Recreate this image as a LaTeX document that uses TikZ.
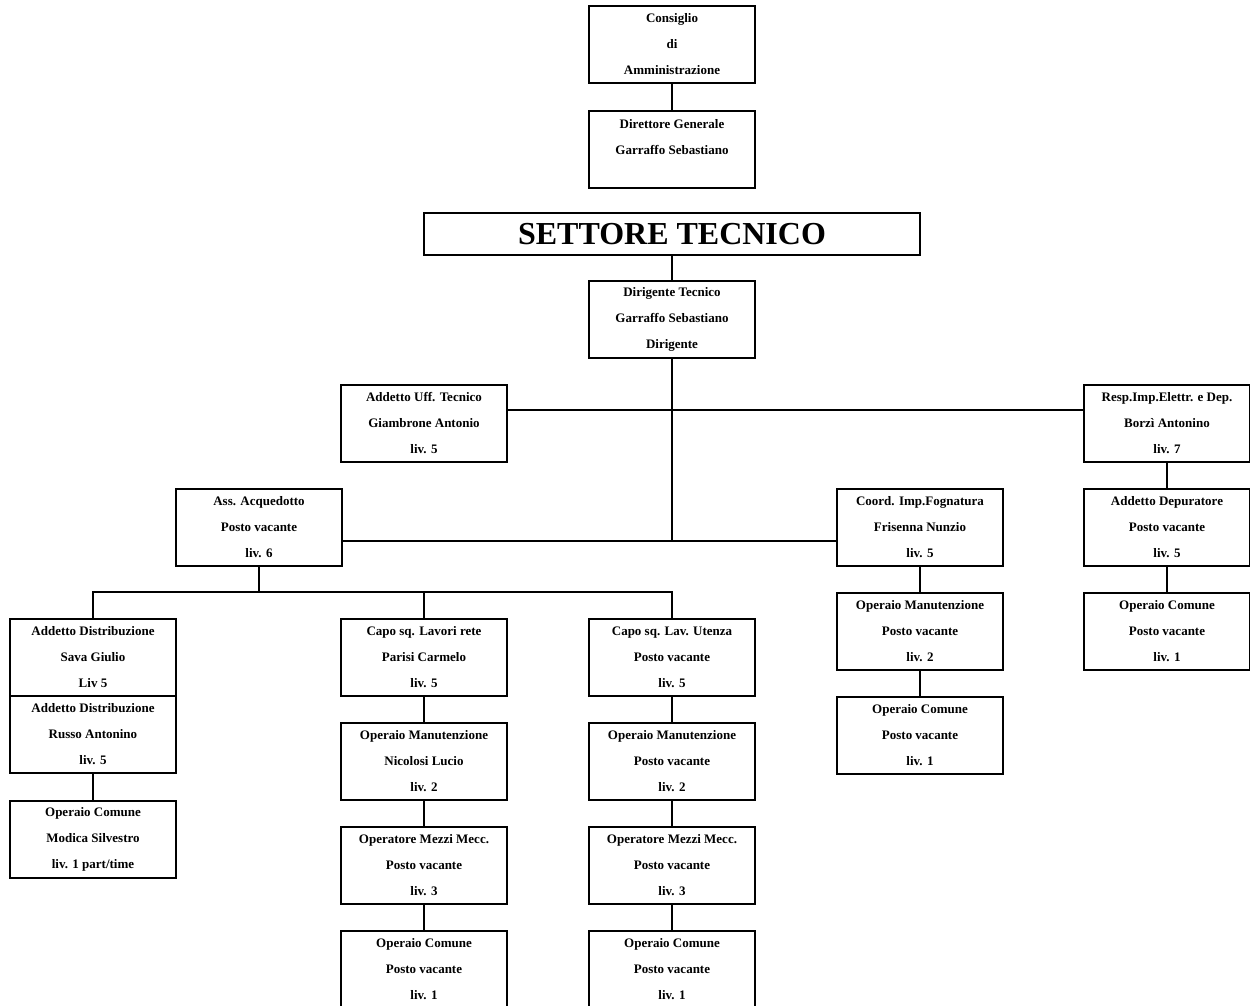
\documentclass[tikz,border=0pt]{standalone}
\usepackage{fontspec}
\setmainfont{Liberation Serif}
\usepackage{tikz}
\usetikzlibrary{positioning,calc}

\begin{document}
\begin{tikzpicture}[x=1pt, y=-1pt,
    box/.style={draw, line width=2pt, minimum width=166pt, minimum height=77pt,
      inner sep=0pt, align=center, font=\fontsize{13}{26}\selectfont\bfseries},
    link/.style={line width=2pt}]
  \useasboundingbox (0,0) rectangle (1250,1006);
  \clip (0,0) rectangle (1250,1006);
  % vertice
  \node[box] (cda) at (672,44.5) {Consiglio\\di\\Amministrazione};
  \node[box] (dg) at (672,149.5) {Direttore Generale\\Garraffo Sebastiano\\~};
  \node[draw, line width=2pt, minimum width=496pt, minimum height=42pt, inner sep=0pt,
    font=\fontsize{32}{34}\selectfont\bfseries] (st) at (672,234) {SETTORE TECNICO};
  \node[box] (dt) at (672,319.5) {Dirigente Tecnico\\Garraffo Sebastiano\\Dirigente};
  % primo livello
  \node[box] (uff) at (424,423.5) {Addetto Uff. Tecnico\\Giambrone Antonio\\liv. 5};
  \node[box] (resp) at (1167,423.5) {Resp.Imp.Elettr. e Dep.\\Borzì Antonino\\liv. 7};
  \node[box] (acq) at (259,527.5) {Ass. Acquedotto\\Posto vacante\\liv. 6};
  \node[box] (fogn) at (920,527.5) {Coord. Imp.Fognatura\\Frisenna Nunzio\\liv. 5};
  \node[box] (dep) at (1167,527.5) {Addetto Depuratore\\Posto vacante\\liv. 5};
  \node[box] (depop) at (1167,631.5) {Operaio Comune\\Posto vacante\\liv. 1};
  % acquedotto
  \node[box] (dist1) at (93,657.5) {Addetto Distribuzione\\Sava Giulio\\Liv 5};
  \node[box] (dist2) at (93,734.5) {Addetto Distribuzione\\Russo Antonino\\liv. 5};
  \node[box] (distop) at (93,839.5) {Operaio Comune\\Modica Silvestro\\liv. 1 part/time};
  \node[box] (rete) at (424,657.5) {Capo sq. Lavori rete\\Parisi Carmelo\\liv. 5};
  \node[box] (reteman) at (424,761.5) {Operaio Manutenzione\\Nicolosi Lucio\\liv. 2};
  \node[box] (retemez) at (424,865.5) {Operatore Mezzi Mecc.\\Posto vacante\\liv. 3};
  \node[box] (reteop) at (424,969.5) {Operaio Comune\\Posto vacante\\liv. 1};
  \node[box] (ut) at (672,657.5) {Capo sq. Lav. Utenza\\Posto vacante\\liv. 5};
  \node[box] (utman) at (672,761.5) {Operaio Manutenzione\\Posto vacante\\liv. 2};
  \node[box] (utmez) at (672,865.5) {Operatore Mezzi Mecc.\\Posto vacante\\liv. 3};
  \node[box] (utop) at (672,969.5) {Operaio Comune\\Posto vacante\\liv. 1};
  % fognatura
  \node[box] (fognman) at (920,631.5) {Operaio Manutenzione\\Posto vacante\\liv. 2};
  \node[box] (fognop) at (920,735.5) {Operaio Comune\\Posto vacante\\liv. 1};
  % collegamenti
  \coordinate (bus) at (0,592);
  \coordinate (acqR) at ([yshift=-13.5pt]acq.east);
  \coordinate (fognL) at ([yshift=-13.5pt]fogn.west);
  \coordinate (uffR) at ([yshift=13.5pt]uff.east);
  \coordinate (respL) at ([yshift=13.5pt]resp.west);
  \draw[link] (cda) -- (dg);
  \draw[link] (st) -- (dt);
  \draw[link] (uffR) -- (respL);
  \draw[link] (acqR) -- (fognL);
  \draw[link] (dt.south) -- (dt.south |- acqR);
  \draw[link] (resp) -- (dep);
  \draw[link] (dep) -- (depop);
  \draw[link] (acq.south) -- (acq.south |- bus);
  \draw[link] (dist1.north) -- (dist1.north |- bus) -- (ut.north |- bus) -- (ut.north);
  \draw[link] (rete.north) -- (rete.north |- bus);
  \draw[link] (dist2) -- (distop);
  \draw[link] (rete) -- (reteman);
  \draw[link] (reteman) -- (retemez);
  \draw[link] (retemez) -- (reteop);
  \draw[link] (ut) -- (utman);
  \draw[link] (utman) -- (utmez);
  \draw[link] (utmez) -- (utop);
  \draw[link] (fogn) -- (fognman);
  \draw[link] (fognman) -- (fognop);
\end{tikzpicture}
\end{document}
